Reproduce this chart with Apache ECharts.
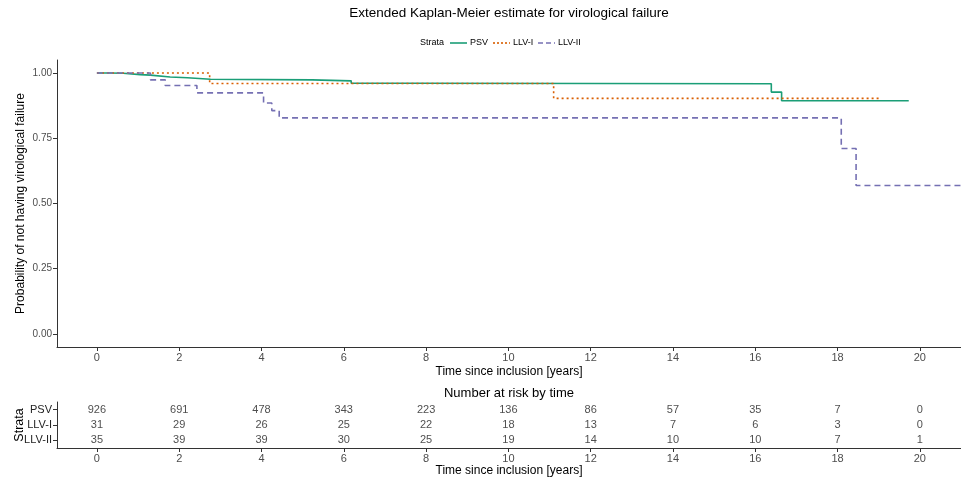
<!DOCTYPE html>
<html>
<head>
<meta charset="utf-8">
<script src="https://cdn.jsdelivr.net/npm/echarts@6/dist/echarts.min.js"></script>
<style>
html,body{margin:0;padding:0;background:#fff;}
#chart{width:961px;height:478px;}
</style>
</head>
<body>
<div id="chart"></div>
<script>
// ---- Data ----
const strata = ['PSV', 'LLV-I', 'LLV-II'];
const timesPSV = [0, 0.32, 0.64, 1.05, 1.30, 1.78, 2.20, 2.76, 5.23, 6.18, 7.81, 16.39, 16.64, 19.73];
const survPSV  = [1.0, 0.999, 0.994, 0.992, 0.985, 0.982, 0.976, 0.974, 0.970, 0.961, 0.959, 0.927, 0.894, 0.894];
const timesLLV1 = [0, 2.74, 11.10, 19.0];
const survLLV1  = [1.0, 0.960, 0.903, 0.903];
const timesLLV2 = [0, 1.30, 1.66, 2.43, 4.05, 4.25, 4.43, 18.09, 18.45, 21.0];
const survLLV2  = [1.0, 0.974, 0.952, 0.924, 0.885, 0.856, 0.828, 0.711, 0.569, 0.569];

const riskTimes = [0, 2, 4, 6, 8, 10, 12, 14, 16, 18, 20];
const riskPSV  = [926, 691, 478, 343, 223, 136, 86, 57, 35, 7, 0];
const riskLLV1 = [31, 29, 26, 25, 22, 18, 13, 7, 6, 3, 0];
const riskLLV2 = [35, 39, 39, 30, 25, 19, 14, 10, 10, 7, 1];

const xTicks = [0, 2, 4, 6, 8, 10, 12, 14, 16, 18, 20];
const yTicks = [0, 0.25, 0.5, 0.75, 1.0];

const colors = ['#1B9E77', '#D95F02', '#7570B3'];
const dashes = ['solid', [2, 3], [6, 4]];
const FONT = 'Liberation Sans, Arial, sans-serif';

// ---- Build ----
function pairs(t, s) { return t.map((x, i) => [x, s[i]]); }
function riskData(name, vals) { return riskTimes.map((t, i) => [t, name, vals[i]]); }

const axisLineStyle = { color: '#333', width: 1 };

const chart = echarts.init(document.getElementById('chart'), null, { renderer: 'canvas' });

// manual legend (Strata  — PSV ··· LLV-I - - LLV-II)
const legendItems = [
  { x1: 450, x2: 467, tx: 470, text: strata[0] },
  { x1: 493, x2: 510, tx: 513, text: strata[1] },
  { x1: 538, x2: 555, tx: 558, text: strata[2] }
];
const legendGraphics = [];
legendItems.forEach((it, i) => {
  legendGraphics.push({ type: 'line', shape: { x1: it.x1, y1: 43, x2: it.x2, y2: 43 },
    style: { stroke: colors[i], lineWidth: 1.6, lineDash: i === 0 ? null : (i === 1 ? [2, 2] : [5, 3]) } });
  legendGraphics.push({ type: 'text', x: it.tx, y: 43,
    style: { text: it.text, font: '9px ' + FONT, fill: '#000', align: 'left', verticalAlign: 'middle' } });
});

function xAxisCfg(idx, gap) {
  return {
    gridIndex: idx, type: 'value', min: -0.97, max: 21,
    axisLine: { show: true, onZero: false, lineStyle: axisLineStyle },
    axisTick: { show: true, length: 4, lineStyle: axisLineStyle, customValues: xTicks },
    axisLabel: { customValues: xTicks, fontSize: 11, color: '#4D4D4D', margin: 5, fontFamily: FONT },
    splitLine: { show: false },
    name: 'Time since inclusion [years]', nameLocation: 'middle', nameGap: gap, nameMoveOverlap: false,
    nameTextStyle: { fontSize: 12, color: '#000', fontFamily: FONT }
  };
}

const option = {
  animation: false,
  backgroundColor: '#fff',
  textStyle: { fontFamily: FONT },
  graphic: [
    { type: 'text', x: 509, y: 13, style: { text: 'Extended Kaplan-Meier estimate for virological failure', font: '13.5px ' + FONT, fill: '#000', align: 'center', verticalAlign: 'middle' } },
    { type: 'text', x: 420, y: 43, style: { text: 'Strata', font: '9px ' + FONT, fill: '#000', align: 'left', verticalAlign: 'middle' } },
    { type: 'text', x: 509, y: 393, style: { text: 'Number at risk by time', font: '13px ' + FONT, fill: '#000', align: 'center', verticalAlign: 'middle' } }
  ].concat(legendGraphics),
  grid: [
    { left: 57, right: 0, top: 60, height: 287, outerBoundsMode: 'none', containLabel: false },
    { left: 57, right: 0, top: 402, height: 46, outerBoundsMode: 'none', containLabel: false }
  ],
  xAxis: [xAxisCfg(0, 19), xAxisCfg(1, 17)],
  yAxis: [
    {
      gridIndex: 0, type: 'value', min: -0.05, max: 1.05,
      axisLine: { show: true, onZero: false, lineStyle: axisLineStyle },
      axisTick: { show: true, length: 4, lineStyle: axisLineStyle, customValues: yTicks },
      axisLabel: { customValues: yTicks, formatter: v => v.toFixed(2), fontSize: 10, color: '#4D4D4D', margin: 5, fontFamily: FONT },
      splitLine: { show: false },
      name: 'Probability of not having virological failure', nameLocation: 'middle', nameGap: 30, nameMoveOverlap: false,
      nameTextStyle: { fontSize: 12, color: '#000', fontFamily: FONT }
    },
    {
      gridIndex: 1, type: 'category', data: ['LLV-II', 'LLV-I', 'PSV'],
      axisLine: { show: true, onZero: false, lineStyle: axisLineStyle },
      axisTick: { show: true, length: 4, alignWithLabel: true, lineStyle: axisLineStyle },
      axisLabel: { fontSize: 11, color: '#222', margin: 5, fontFamily: FONT },
      splitLine: { show: false },
      name: 'Strata', nameLocation: 'middle', nameGap: 31, nameMoveOverlap: false,
      nameTextStyle: { fontSize: 12.5, color: '#000', fontFamily: FONT }
    }
  ],
  series: [
    { name: strata[0], type: 'line', step: 'end', xAxisIndex: 0, yAxisIndex: 0, data: pairs(timesPSV, survPSV),
      showSymbol: false, symbol: 'none', color: colors[0], lineStyle: { color: colors[0], width: 1.6, type: dashes[0] }, silent: true },
    { name: strata[1], type: 'line', step: 'end', xAxisIndex: 0, yAxisIndex: 0, data: pairs(timesLLV1, survLLV1),
      showSymbol: false, symbol: 'none', color: colors[1], lineStyle: { color: colors[1], width: 1.6, type: dashes[1] }, silent: true },
    { name: strata[2], type: 'line', step: 'end', xAxisIndex: 0, yAxisIndex: 0, data: pairs(timesLLV2, survLLV2),
      showSymbol: false, symbol: 'none', color: colors[2], lineStyle: { color: colors[2], width: 1.6, type: dashes[2] }, silent: true },
    {
      type: 'scatter', xAxisIndex: 1, yAxisIndex: 1, silent: true,
      symbolSize: 1, itemStyle: { color: 'rgba(0,0,0,0)' },
      data: [].concat(riskData(strata[0], riskPSV), riskData(strata[1], riskLLV1), riskData(strata[2], riskLLV2)),
      label: { show: true, position: 'inside', formatter: p => String(p.value[2]), fontSize: 11, color: '#222', fontFamily: FONT }
    }
  ]
};
chart.setOption(option);
</script>
</body>
</html>
